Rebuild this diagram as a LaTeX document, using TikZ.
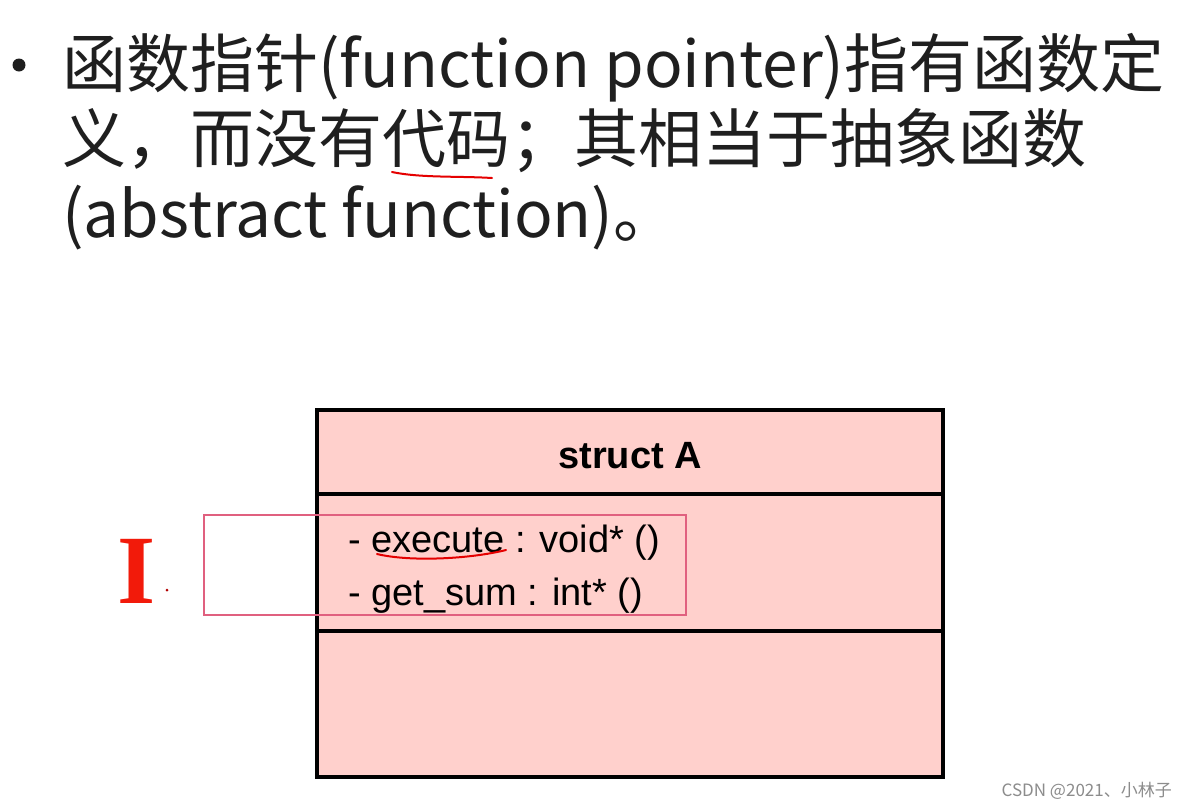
\documentclass[tikz,border=0pt]{standalone}
\usepackage{fontspec}
\setmainfont{Liberation Sans}
\newfontfamily\cjk{Noto Sans CJK SC}
\newfontfamily\serifI{Liberation Serif}
\begin{document}
\begin{tikzpicture}[x=1pt,y=-1pt,
  titleline/.style={anchor=base west,inner sep=0,text=black!88,font=\cjk\fontsize{64}{75}\selectfont},
  member/.style={anchor=base west,inner sep=0,font=\fontsize{38}{44}\selectfont},
  compart/.style={draw=black,line width=4pt,fill=umlpink,minimum width=626pt,inner sep=0},
  marker/.style={draw=red!90!black,line width=2pt,line cap=round},
]
\definecolor{umlpink}{HTML}{FFD0CC}
\definecolor{selpink}{HTML}{E0607F}
\definecolor{redI}{HTML}{F21A0A}
\useasboundingbox (0,0) rectangle (1188,809);
\fill[white] (0,0) rectangle (1188,809);
% title
\node[circle,fill=black!88,inner sep=0,minimum size=13pt] (bullet) at (19,65) {};
\node[titleline] (l1) at (62,87) {函数指针(function pointer)指有函数定};
\node[titleline] (l2) at (62,162) {义，而没有代码；其相当于抽象函数};
\node[titleline] (l3) at (62,237) {(abstract function)。};
\draw[marker] (392,172) .. controls (420,178) and (460,176) .. (492,178);
% class box
\node[compart,minimum height=84pt] (head) at (630,452) {};
\node[compart,minimum height=138pt] (attrs) at (630,563) {};
\node[compart,minimum height=146pt] (ops) at (630,704) {};
\node[anchor=base,inner sep=0,font=\bfseries\fontsize{38}{44}\selectfont] (name) at (630,468) {struct A};
\node[member] (m1) at (348,552) {- execute : void* ()};
\node[member] (m2) at (348,605) {- get\_sum : int* ()};
\draw[marker,line width=2pt] (377,554) .. controls (410,562) and (470,559) .. (506,550);
% selection rectangle
\draw[selpink,line width=1.5pt] (204,515) rectangle (686,615);
% red I
\node[anchor=base,inner sep=0,text=redI,font=\serifI\bfseries\fontsize{98}{100}\selectfont] (bigI) at (137,603) {I};
\fill[red!70!black] (167,590) circle (1.5pt);
% watermark
\node[anchor=base east,inner sep=0,text=black!45,font=\cjk\fontsize{17}{20}\selectfont] (wm) at (1172,796) {CSDN @2021、小林子};
\end{tikzpicture}
\end{document}
